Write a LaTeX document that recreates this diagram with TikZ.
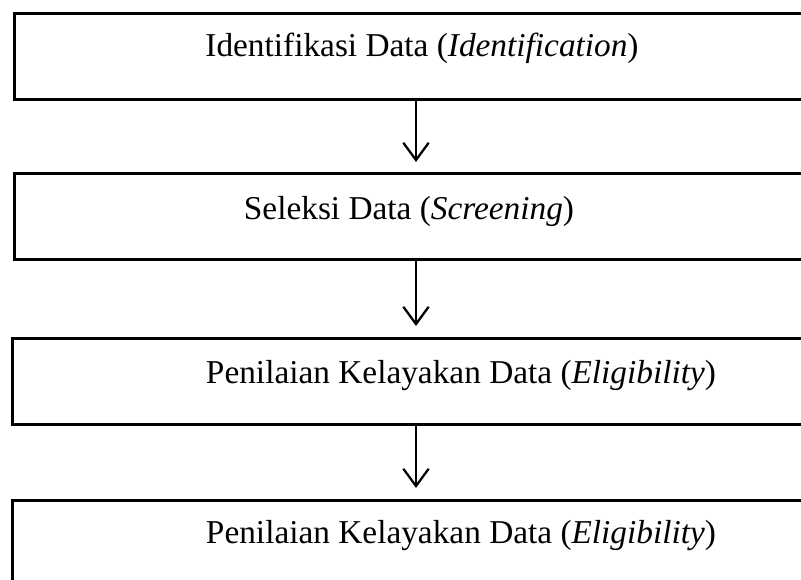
\documentclass[tikz,border=0pt]{standalone}
\usepackage{fontspec}
\setmainfont{Liberation Serif}
\usetikzlibrary{arrows.meta}
\begin{document}
\begin{tikzpicture}[x=0.75pt,y=-0.75pt,
  stagebox/.style={draw, line width=1.9pt, rectangle, anchor=north west,
    minimum width=820*0.75pt, minimum height=86*0.75pt, inner sep=0pt},
  label/.style={font=\fontsize{25}{29}\selectfont, inner sep=0pt},
  flow/.style={line width=1.7pt, -{Straight Barb[length=13pt,width=19pt,line width=1.7pt]}}]
  \useasboundingbox (0,0) rectangle (801,580);
  \clip (0,0) rectangle (801,580);

  % stage boxes (they run past the right edge of the page)
  \node[stagebox] (b1) at (13,12) {};
  \node[stagebox] (b2) at (13,172) {};
  \node[stagebox] (b3) at (11,337) {};
  \node[stagebox] (b4) at (11,499) {};

  % captions
  \node[label] (t1) at (422,48)  {Identifikasi Data (\textit{Identification})};
  \node[label] (t2) at (409,211) {Seleksi Data (\textit{Screening})};
  \node[label] (t3) at (461,376) {Penilaian Kelayakan Data (\textit{Eligibility})};
  \node[label] (t4) at (461,536) {Penilaian Kelayakan Data (\textit{Eligibility})};

  % arrow tips stop short of the next box
  \coordinate (ax) at (416,0);
  \coordinate (e1) at (416,162);
  \coordinate (e2) at (416,326);
  \coordinate (e3) at (416,488);

  \draw[flow] (b1.south -| ax) -- (e1);
  \draw[flow] (b2.south -| ax) -- (e2);
  \draw[flow] (b3.south -| ax) -- (e3);
\end{tikzpicture}
\end{document}
